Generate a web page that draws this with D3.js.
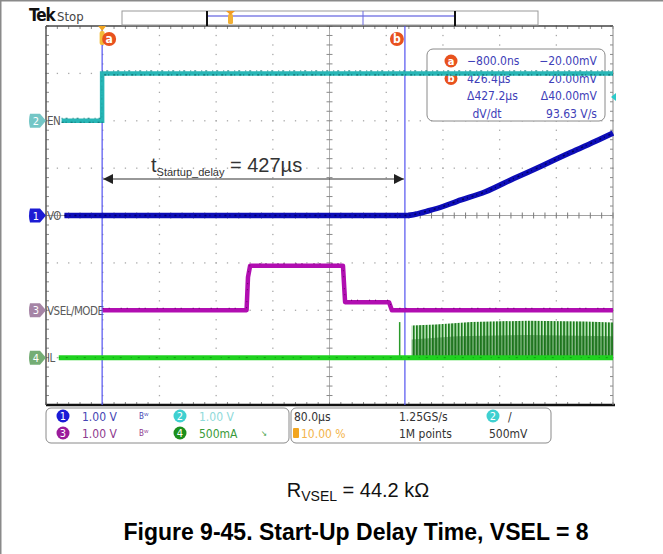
<!DOCTYPE html>
<html>
<head>
<meta charset="utf-8">
<script src="https://cdn.jsdelivr.net/npm/d3@7"></script>
<style>
  body { margin: 0; background: #fff; }
  svg { display: block; }
  .scope { font-family: "Liberation Sans Narrow", "DejaVu Sans Condensed", sans-serif; }
</style>
</head>
<body>
<div id="chart"></div>
<script>
// ── Scope settings ─────────────────────────────────────────────────────────
const TIME_RANGE = [-80, 720];      // µs, 80 µs/div, trigger at 10 %
const DIV_RANGE  = [-4, 4];         // vertical divisions

// Traces, [time µs, divisions]
const EN_PTS   = [[-58, 2.0], [-0.8, 2.0], [-0.8, 3.0], [720, 3.0]];
const VO_PTS   = [[-54, 0], [428, 0], [445, 0.04], [460, 0.1], [480, 0.19], [500, 0.3],
                  [540, 0.5], [580, 0.78], [620, 1.05], [660, 1.33], [700, 1.6], [720, 1.74]];
const VSEL_PTS = [[0, -2.0], [203, -2.0], [205, -1.3], [208, -1.06], [339, -1.06], [342, -1.83],
                  [404, -1.83], [408, -2.0], [720, -2.0]];
const IL_PTS   = [[-62, -3.0], [720, -3.0]];
const IL_SPIKES   = [[419, -2.25]];
const IL_ENVELOPE = [[436, -2.32], [470, -2.3], [520, -2.25], [600, -2.22], [680, -2.24], [720, -2.26]];
const IL_CORE     = [[436, -2.62], [500, -2.55], [600, -2.52], [720, -2.55]];

const CURSOR_A = -0.8, CURSOR_B = 426.4;
const TRIG_LEVEL = 2.5;

const CHANNELS = [
  { id: "2", label: "EN",        level: 2.0,  fill: "#74c6c6" },
  { id: "1", label: "VO",        level: 0.0,  fill: "#1c1cd4" },
  { id: "3", label: "VSEL/MODE", level: -2.0, fill: "#a584a5" },
  { id: "4", label: "IL",        level: -3.0, fill: "#74ad74" }
];

const READOUT = [
  { tag: "a", left: "\u2212800.0ns", right: "\u221220.00mV" },
  { tag: "b", left: "426.4\u00b5s",  right: "20.00mV" },
  { tag: "",  left: "\u0394427.2\u00b5s", right: "\u039440.00mV" },
  { tag: "",  left: "dV/dt",         right: "93.63 V/s" }
];

const CH_SETTINGS = [
  { ch: "1", circle: "#1a1ad6", text: "1.00 V", color: "#4646b4", icon: "B\u1d42" },
  { ch: "2", circle: "#3fd0d0", text: "1.00 V", color: "#8fdada", icon: "" },
  { ch: "3", circle: "#9b1b9b", text: "1.00 V", color: "#8e3a8e", icon: "B\u1d42" },
  { ch: "4", circle: "#1c8f1c", text: "500mA",  color: "#3a9a3a", icon: "\u2198" }
];
const ACQ = { scale: "80.0\u00b5s", rate: "1.25GS/s", trig: "10.00 %", points: "1M points",
              trigCh: "2", slope: "/", trigLevel: "500mV" };

// ── SVG ────────────────────────────────────────────────────────────────────
const W = 663, H = 554;
const svg = d3.select("#chart").append("svg").attr("width", W).attr("height", H);
svg.append("rect").attr("width", W).attr("height", H).attr("fill", "#fff");
svg.append("line").attr("x1", 0.5).attr("x2", 0.5).attr("y1", 0).attr("y2", H).attr("stroke", "#8a8a8a").attr("stroke-width", 2);
svg.append("line").attr("x1", 0).attr("x2", W).attr("y1", 0.5).attr("y2", 0.5).attr("stroke", "#8a8a8a").attr("stroke-width", 2);

const x = d3.scaleLinear().domain(TIME_RANGE).range([46, 613]);
const y = d3.scaleLinear().domain(DIV_RANGE).range([405, 26]);
const line = d3.line().x(d => x(d[0])).y(d => y(d[1]));

const scope = svg.append("g").attr("class", "scope");

// ── Graticule ──────────────────────────────────────────────────────────────
const majT = d3.range(TIME_RANGE[0], TIME_RANGE[1] + 1, 80);
const minT = d3.range(TIME_RANGE[0], TIME_RANGE[1] + 0.1, 16);
const majV = d3.range(-4, 4.01, 1);
const minV = d3.range(-4, 4.01, 0.2);
const grat = scope.append("g");

majT.slice(1, -1).filter(t => t !== 320).forEach(t => {
  grat.selectAll(null).data(minV).join("rect")
    .attr("x", x(t) - 0.6).attr("y", d => y(d) - 0.6).attr("width", 1.3).attr("height", 1.3).attr("fill", "#a8a8a8");
});
majV.slice(1, -1).filter(v => v !== 0).forEach(v => {
  grat.selectAll(null).data(minT).join("rect")
    .attr("x", d => x(d) - 0.6).attr("y", y(v) - 0.6).attr("width", 1.3).attr("height", 1.3).attr("fill", "#a8a8a8");
});
// centre cross with ticks
grat.append("line").attr("x1", x(320)).attr("x2", x(320)).attr("y1", y(4)).attr("y2", y(-4)).attr("stroke", "#9a9a9a").attr("stroke-width", 0.8);
grat.append("line").attr("x1", x(-80)).attr("x2", x(720)).attr("y1", y(0)).attr("y2", y(0)).attr("stroke", "#8a8a8a").attr("stroke-width", 0.8);
grat.selectAll(null).data(minV).join("line")
  .attr("x1", x(320) - 3).attr("x2", x(320) + 3).attr("y1", d => y(d)).attr("y2", d => y(d)).attr("stroke", "#8a8a8a");
grat.selectAll(null).data(minT).join("line")
  .attr("x1", d => x(d)).attr("x2", d => x(d)).attr("y1", y(0) - 3).attr("y2", y(0) + 3).attr("stroke", "#7a7a7a");
// edge ticks
grat.selectAll(null).data(minT).join("line")
  .attr("x1", d => x(d)).attr("x2", d => x(d)).attr("y1", y(4)).attr("y2", y(4) + 3).attr("stroke", "#8a8a8a");
grat.selectAll(null).data(minT).join("line")
  .attr("x1", d => x(d)).attr("x2", d => x(d)).attr("y1", y(-4)).attr("y2", y(-4) - 3).attr("stroke", "#8a8a8a");
grat.selectAll(null).data(minV).join("line")
  .attr("x1", x(-80)).attr("x2", x(-80) + 3).attr("y1", d => y(d)).attr("y2", d => y(d)).attr("stroke", "#8a8a8a");
grat.selectAll(null).data(minV).join("line")
  .attr("x1", x(720)).attr("x2", x(720) - 3).attr("y1", d => y(d)).attr("y2", d => y(d)).attr("stroke", "#8a8a8a");
grat.append("line").attr("x1", x(-80)).attr("x2", x(720)).attr("y1", y(4)).attr("y2", y(4)).attr("stroke", "#444").attr("stroke-width", 1.5);
grat.append("line").attr("x1", x(-80)).attr("x2", x(720) + 2).attr("y1", y(-4)).attr("y2", y(-4)).attr("stroke", "#111").attr("stroke-width", 2.5);
grat.append("line").attr("x1", x(-80)).attr("x2", x(-80)).attr("y1", y(4)).attr("y2", y(-4)).attr("stroke", "#555").attr("stroke-width", 1.5);
grat.append("line").attr("x1", x(720)).attr("x2", x(720)).attr("y1", y(4)).attr("y2", y(-4)).attr("stroke", "#888").attr("stroke-width", 1);

// ── Top bar ────────────────────────────────────────────────────────────────
scope.append("text").attr("x", 29).attr("y", 21).attr("font-size", 17).attr("font-weight", "bold")
  .attr("fill", "#111").attr("letter-spacing", -1).text("Tek");
scope.append("text").attr("x", 57).attr("y", 21).attr("font-size", 13).attr("fill", "#444").text("Stop");
scope.append("rect").attr("x", 122).attr("y", 11).attr("width", 416).attr("height", 14)
  .attr("fill", "#fff").attr("stroke", "#9a9a9a");
scope.append("line").attr("x1", 207).attr("x2", 455).attr("y1", 16).attr("y2", 16).attr("stroke", "#8080e6").attr("stroke-width", 1.5);
scope.append("line").attr("x1", 363).attr("x2", 363).attr("y1", 11).attr("y2", 25).attr("stroke", "#6a6ae0");
[207, 455].forEach(px => scope.append("line").attr("x1", px).attr("x2", px).attr("y1", 11).attr("y2", 26)
  .attr("stroke", "#111").attr("stroke-width", 2));
scope.append("rect").attr("x", 228).attr("y", 14).attr("width", 5).attr("height", 10).attr("rx", 1.5).attr("fill", "#f2b035");
scope.append("path").attr("d", "M226,11 L235,11 L230.5,15 Z").attr("fill", "#f29a20");

// ── Channel markers ────────────────────────────────────────────────────────
CHANNELS.forEach(c => {
  const cy = y(c.level);
  scope.append("path")
    .attr("d", `M30,${cy - 7} L40,${cy - 7} L46,${cy} L40,${cy + 7} L30,${cy + 7} Q28,${cy} 30,${cy - 7} Z`)
    .attr("fill", c.fill);
  scope.append("text").attr("x", 36).attr("y", cy + 4).attr("font-size", 11).attr("fill", "#fff")
    .attr("text-anchor", "middle").text(c.id);
  scope.append("text").attr("x", 47).attr("y", cy + 4.5).attr("font-size", 11.5).attr("letter-spacing", -0.5)
    .attr("fill", "#5a5a5a").text(c.label);
});

// ── Cursor readout box ─────────────────────────────────────────────────────
const rb = scope.append("g");
rb.append("rect").attr("x", 427).attr("y", 49).attr("width", 178).attr("height", 72).attr("rx", 6)
  .attr("fill", "#fff").attr("stroke", "#8a8a8a");
READOUT.forEach((r, i) => {
  const by = 65 + i * 17.5;
  if (r.tag) {
    rb.append("circle").attr("cx", 451).attr("cy", by - 4).attr("r", 6.5).attr("fill", "#e8521e");
    rb.append("text").attr("x", 451).attr("y", by - 0.5).attr("text-anchor", "middle").attr("font-size", 11)
      .attr("font-weight", "bold").attr("fill", "#fff").text(r.tag);
  }
  rb.append("text").attr("x", i === 3 ? 487 : 467).attr("y", by).attr("font-size", 12)
    .attr("text-anchor", i === 3 ? "middle" : "start").attr("fill", "#4040b8").text(r.left);
  rb.append("text").attr("x", 597).attr("y", by).attr("font-size", 12).attr("text-anchor", "end")
    .attr("fill", "#4040b8").text(r.right);
});

// ── Cursors ────────────────────────────────────────────────────────────────
[CURSOR_A, CURSOR_B].forEach(t => scope.append("line")
  .attr("x1", x(t)).attr("x2", x(t)).attr("y1", y(4)).attr("y2", y(-4)).attr("stroke", "#5252f0").attr("stroke-width", 1.2));

// ── Traces ─────────────────────────────────────────────────────────────────
const defs = svg.append("defs");
const pat = defs.append("pattern").attr("id", "il-stripes").attr("patternUnits", "userSpaceOnUse")
  .attr("width", 3.2).attr("height", 10);
pat.append("rect").attr("width", 3.2).attr("height", 10).attr("fill", "#eef8ee");
pat.append("rect").attr("width", 1.7).attr("height", 10).attr("fill", "#1f7a1f");
pat.append("rect").attr("x", 1.7).attr("width", 0.8).attr("height", 10).attr("fill", "#74c874");

const area = d3.area().x(d => x(d[0])).y0(y(-3)).y1(d => y(d[1]));
scope.append("path").datum(IL_ENVELOPE).attr("d", area).attr("fill", "url(#il-stripes)");
scope.append("path").datum(IL_CORE).attr("d", area).attr("fill", "#1a6a1a").attr("opacity", 0.45);
IL_SPIKES.forEach(s => scope.append("line").attr("x1", x(s[0])).attr("x2", x(s[0]))
  .attr("y1", y(-3)).attr("y2", y(s[1])).attr("stroke", "#2a9a2a").attr("stroke-width", 1.5));
scope.append("path").datum(IL_PTS).attr("d", line).attr("fill", "none").attr("stroke", "#1fd21f").attr("stroke-width", 5);
scope.append("path").datum(IL_PTS).attr("d", line).attr("fill", "none").attr("stroke", "#119a11")
  .attr("stroke-width", 1).attr("stroke-dasharray", "1,6,2,9");

scope.append("path").datum(VSEL_PTS).attr("d", line).attr("fill", "none").attr("stroke", "#b10eb1")
  .attr("stroke-width", 4.5).attr("stroke-linejoin", "round");
scope.append("path").datum(VSEL_PTS).attr("d", line).attr("fill", "none").attr("stroke", "#6a006a")
  .attr("stroke-width", 1).attr("stroke-dasharray", "1,5,1,11").attr("transform", "translate(0,-2)");

const voLine = d3.line().curve(d3.curveMonotoneX).x(d => x(d[0])).y(d => y(d[1]));
scope.append("path").datum(VO_PTS).attr("d", voLine)
  .attr("fill", "none").attr("stroke", "#0d0db8").attr("stroke-width", 5.5);
scope.append("path").datum(VO_PTS).attr("d", voLine)
  .attr("fill", "none").attr("stroke", "#000060").attr("stroke-width", 1.5).attr("stroke-dasharray", "2,3,1,4");

scope.append("path").datum(EN_PTS).attr("d", line).attr("fill", "none").attr("stroke", "#27b6b6").attr("stroke-width", 4.5);
scope.append("path").datum(EN_PTS).attr("d", line).attr("fill", "none").attr("stroke", "#0f6f6f")
  .attr("stroke-width", 1.2).attr("stroke-dasharray", "2,2,1,4").attr("transform", "translate(0,1.5)");
scope.append("path").datum(EN_PTS).attr("d", line).attr("fill", "none").attr("stroke", "#1b8080")
  .attr("stroke-width", 1).attr("stroke-dasharray", "1,3,2,5").attr("transform", "translate(0,-2.5)");
scope.append("line").attr("x1", x(-0.8)).attr("x2", x(-0.8)).attr("y1", y(2.0)).attr("y2", y(3.0))
  .attr("stroke", "#27b6b6").attr("stroke-width", 1.5);

// trigger level marker
scope.append("path").attr("d", `M${x(720) - 2},${y(TRIG_LEVEL)} l5,-4 l0,8 Z`).attr("fill", "#2ccaca");

// cursor tags
scope.append("path").attr("d", `M${x(CURSOR_A) - 4},26 L${x(CURSOR_A) + 4},26 L${x(CURSOR_A)},31 Z`).attr("fill", "#f2a51f");
scope.append("rect").attr("x", x(CURSOR_A) - 2.5).attr("y", 31).attr("width", 5).attr("height", 14).attr("rx", 2).attr("fill", "#f4bb3a");
[[CURSOR_A, 7, "a"], [CURSOR_B, -8, "b"]].forEach(([t, dx, s]) => {
  scope.append("circle").attr("cx", x(t) + dx).attr("cy", 39).attr("r", 7).attr("fill", "#e8521e");
  scope.append("text").attr("x", x(t) + dx).attr("y", 43).attr("text-anchor", "middle").attr("font-size", 12)
    .attr("font-weight", "bold").attr("fill", "#fff").text(s);
});

// ── Bottom settings panel ──────────────────────────────────────────────────
const bp = scope.append("g");
bp.append("rect").attr("x", 46).attr("y", 408).attr("width", 243).attr("height", 35).attr("rx", 5)
  .attr("fill", "#fff").attr("stroke", "#8a8a8a");
bp.append("rect").attr("x", 291).attr("y", 408).attr("width", 260).attr("height", 35).attr("rx", 5)
  .attr("fill", "#fff").attr("stroke", "#8a8a8a");
CH_SETTINGS.forEach((c, i) => {
  const cx = i % 2 === 0 ? 63 : 180;
  const cy = i < 2 ? 416 : 433;
  bp.append("circle").attr("cx", cx).attr("cy", cy).attr("r", 6.5).attr("fill", c.circle);
  bp.append("text").attr("x", cx).attr("y", cy + 4).attr("text-anchor", "middle").attr("font-size", 11)
    .attr("fill", "#fff").text(c.ch);
  bp.append("text").attr("x", cx + 19).attr("y", cy + 4.5).attr("font-size", 12).attr("fill", c.color).text(c.text);
  if (c.icon) bp.append("text").attr("x", i % 2 === 0 ? 139 : 261).attr("y", cy + 3).attr("font-size", 8)
    .attr("fill", c.color).text(c.icon);
});
bp.append("text").attr("x", 294).attr("y", 420.5).attr("font-size", 12).attr("fill", "#333").text(ACQ.scale);
bp.append("text").attr("x", 399).attr("y", 420.5).attr("font-size", 12).attr("fill", "#333").text(ACQ.rate);
bp.append("text").attr("x", 399).attr("y", 437.5).attr("font-size", 12).attr("fill", "#333").text(ACQ.points);
bp.append("rect").attr("x", 293).attr("y", 428).attr("width", 6).attr("height", 10).attr("rx", 1).attr("fill", "#f2a51f");
bp.append("text").attr("x", 301).attr("y", 437.5).attr("font-size", 12).attr("fill", "#f3b44a").text(ACQ.trig);
bp.append("circle").attr("cx", 493).attr("cy", 416).attr("r", 6.5).attr("fill", "#3fd0d0");
bp.append("text").attr("x", 493).attr("y", 420).attr("text-anchor", "middle").attr("font-size", 11).attr("fill", "#fff").text(ACQ.trigCh);
bp.append("text").attr("x", 508).attr("y", 420.5).attr("font-size", 12).attr("fill", "#333").text(ACQ.slope);
bp.append("text").attr("x", 489).attr("y", 437.5).attr("font-size", 12).attr("fill", "#333").text(ACQ.trigLevel);

// ── Annotation ─────────────────────────────────────────────────────────────
const ann = svg.append("g").style("font-family", "'Liberation Sans', Arial, sans-serif");
defs.append("marker").attr("id", "arr").attr("viewBox", "0 0 10 10").attr("refX", 10).attr("refY", 5)
  .attr("markerWidth", 10).attr("markerHeight", 10).attr("markerUnits", "userSpaceOnUse").attr("orient", "auto-start-reverse")
  .append("path").attr("d", "M0,0 L10,5 L0,10 Z").attr("fill", "#222");
ann.append("line").attr("x1", x(CURSOR_A) + 1).attr("x2", x(CURSOR_B) - 1).attr("y1", 179).attr("y2", 179)
  .attr("stroke", "#333").attr("stroke-width", 1.2).attr("marker-start", "url(#arr)").attr("marker-end", "url(#arr)");
const t1 = ann.append("text").attr("x", 151).attr("y", 172).attr("fill", "#333").attr("font-size", 20);
t1.append("tspan").text("t");
t1.append("tspan").attr("font-size", 11).attr("dy", 4).text("Startup_delay");
t1.append("tspan").attr("dy", -4).text(" = 427\u00b5s");

// ── Caption ────────────────────────────────────────────────────────────────
const cap = svg.append("g").style("font-family", "'Liberation Sans', Arial, sans-serif");
const r = cap.append("text").attr("x", 358).attr("y", 497).attr("text-anchor", "middle").attr("font-size", 20).attr("fill", "#111");
r.append("tspan").text("R");
r.append("tspan").attr("font-size", 14).attr("dy", 4).text("VSEL");
r.append("tspan").attr("dy", -4).text(" = 44.2 k\u03a9");
cap.append("text").attr("x", 356).attr("y", 540).attr("text-anchor", "middle").attr("font-size", 23)
  .attr("font-weight", "bold").attr("fill", "#000").text("Figure 9-45. Start-Up Delay Time, VSEL = 8");
</script>
</body>
</html>
